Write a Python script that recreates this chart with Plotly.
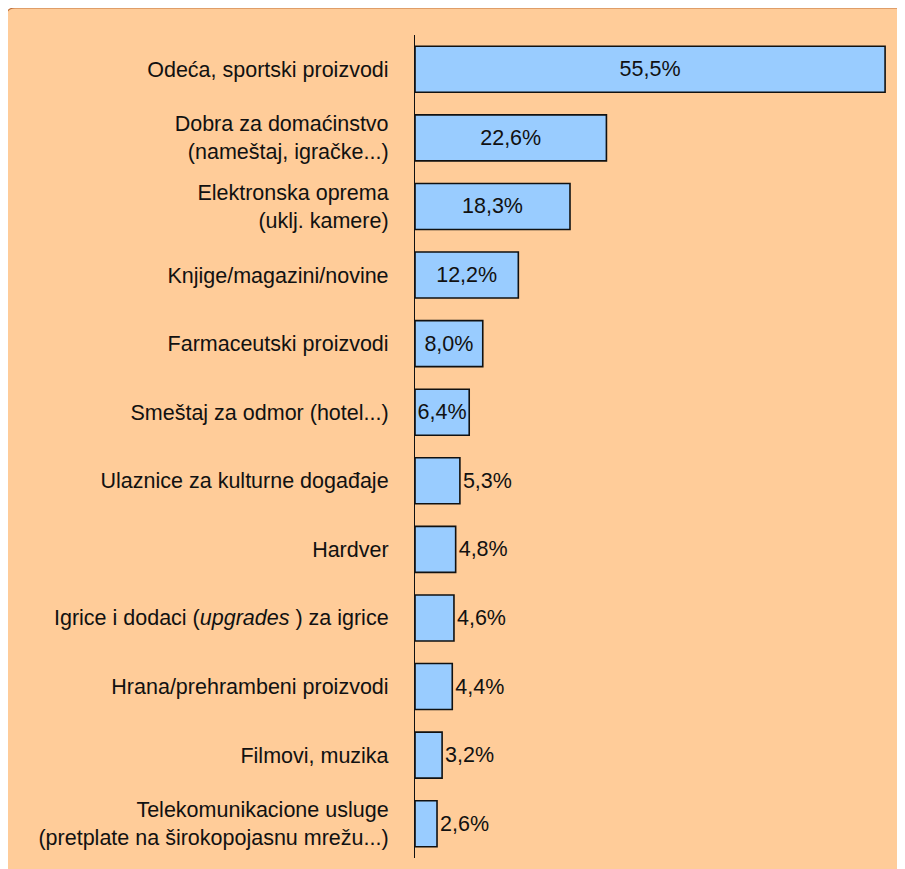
import plotly.graph_objects as go

categories = [
    "Odeća, sportski proizvodi",
    "Dobra za domaćinstvo<br>(nameštaj, igračke...)",
    "Elektronska oprema<br>(uklj. kamere)",
    "Knjige/magazini/novine",
    "Farmaceutski proizvodi",
    "Smeštaj za odmor (hotel...)",
    "Ulaznice za kulturne događaje",
    "Hardver",
    "Igrice i dodaci (<i>upgrades</i> ) za igrice",
    "Hrana/prehrambeni proizvodi",
    "Filmovi, muzika",
    "Telekomunikacione usluge<br>(pretplate na širokopojasnu mrežu...)",
]
values = [55.5, 22.6, 18.3, 12.2, 8.0, 6.4, 5.3, 4.8, 4.6, 4.4, 3.2, 2.6]

labels = [f"{v:.1f}".replace(".", ",") + "%" for v in values]
positions = ["inside" if v >= 6 else "outside" for v in values]

# the page body has an 8px margin, so the figure is drawn 8px smaller
OFF = 8
W, H = 905 - OFF, 869 - OFF
ML, MT = 415 - OFF, 35 - OFF
MB = H - (858 - OFF)
MR = 5
pw, ph = W - ML - MR, H - MT - MB

FONT = "Liberation Sans, Arial, sans-serif"
FS = 21.5

fig = go.Figure()
fig.add_trace(go.Bar(
    x=values,
    y=categories,
    orientation="h",
    text=labels,
    textposition=positions,
    insidetextanchor="middle",
    constraintext="none",
    textfont=dict(family=FONT, size=FS, color="#111111"),
    marker=dict(color="#99CCFF", line=dict(color="#111111", width=1.6)),
    cliponaxis=False,
    hoverinfo="skip",
))


# rounded peach panel behind everything (pixel -> paper)
def px(x):
    return (x - OFF - ML) / pw


def py(y):
    return (H - MB - (y - OFF)) / ph


x0, x1, y0, y1, r = 6, 940, 8, 873, 9
path = (
    f"M {px(x0)},{py(y0 + r)} "
    f"Q {px(x0)},{py(y0)} {px(x0 + r)},{py(y0)} "
    f"L {px(x1)},{py(y0)} L {px(x1)},{py(y1)} "
    f"L {px(x0 + r)},{py(y1)} "
    f"Q {px(x0)},{py(y1)} {px(x0)},{py(y1 - r)} Z"
)
fig.add_shape(type="path", path=path, xref="paper", yref="paper",
              fillcolor="#FFCC99", line=dict(color="#C0703A", width=1.2),
              layer="below")

fig.update_layout(
    width=W,
    height=H,
    margin=dict(l=ML, r=MR, t=MT, b=MB, pad=0),
    paper_bgcolor="white",
    plot_bgcolor="rgba(0,0,0,0)",
    bargap=0.33,
    showlegend=False,
    font=dict(family=FONT, size=FS, color="#111111"),
)
fig.update_xaxes(range=[0, pw / 8.47], visible=False, fixedrange=True)
fig.update_yaxes(
    autorange="reversed",
    showline=True,
    linecolor="#111111",
    linewidth=1.2,
    showgrid=False,
    ticks="",
    ticklabelstandoff=21,
    tickfont=dict(family=FONT, size=FS, color="#111111"),
    fixedrange=True,
)

fig.write_html("out.html")
